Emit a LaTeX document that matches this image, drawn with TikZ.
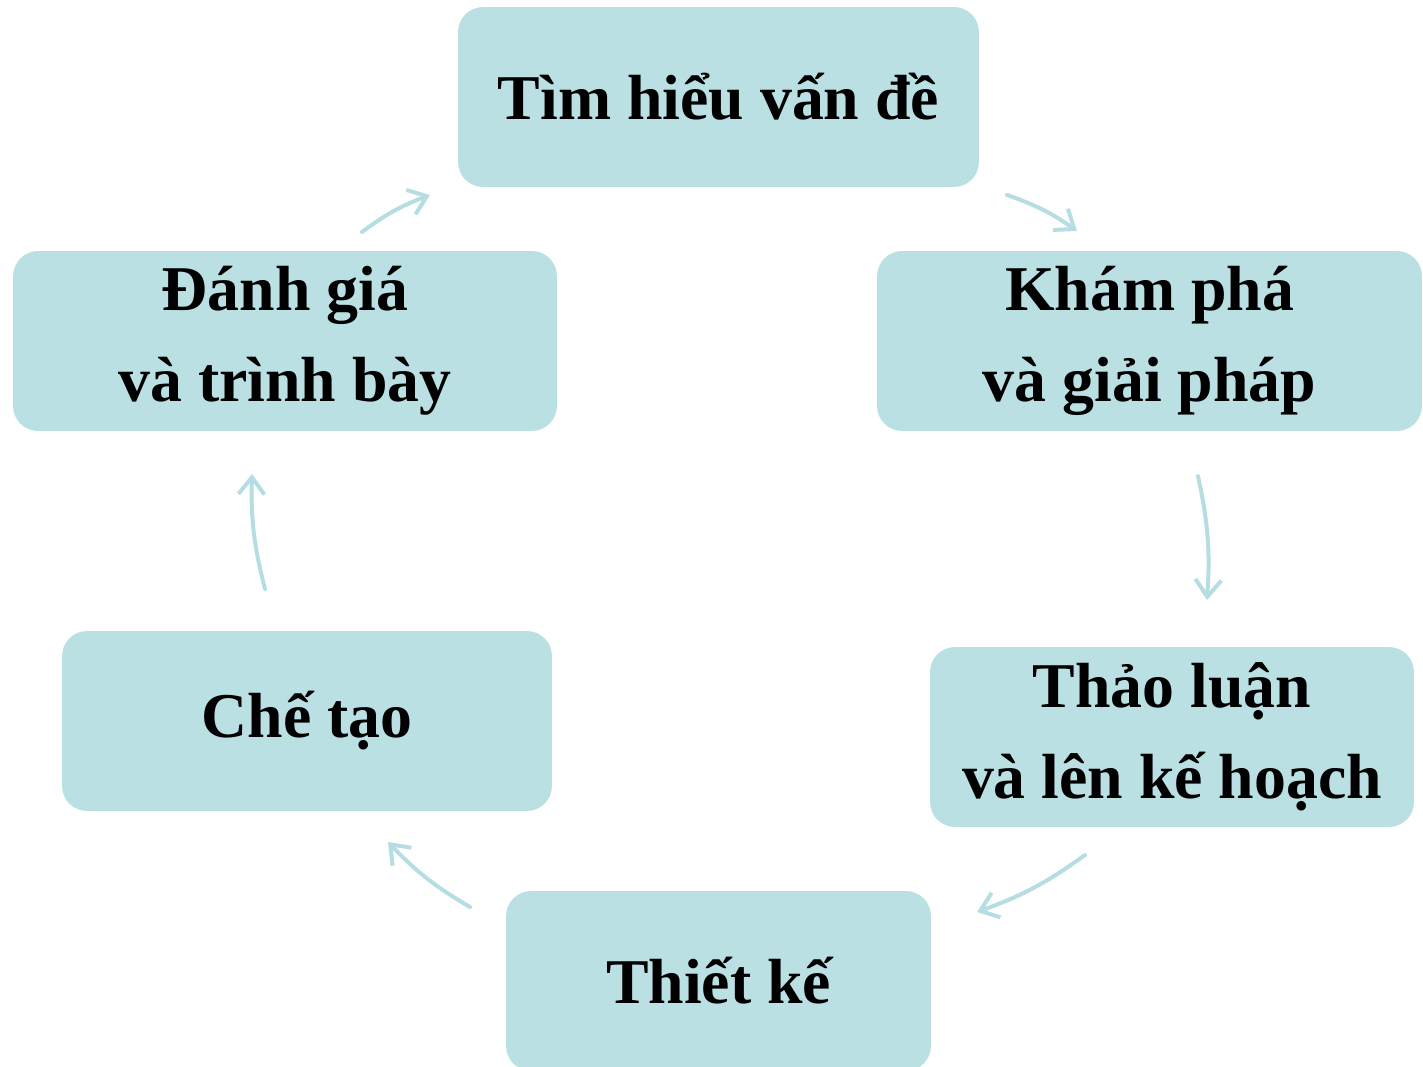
\documentclass[tikz,border=0pt]{standalone}
\usepackage{fontspec}
\setmainfont{Liberation Serif}
\usetikzlibrary{arrows.meta}
\definecolor{boxfill}{RGB}{186,224,227}
\definecolor{arrowcol}{RGB}{182,222,226}
\begin{document}
\begin{tikzpicture}[x=0.02cm,y=-0.02cm,
  stage/.style={fill=boxfill, draw=none, rounded corners=0.5cm, minimum height=3.6cm,
    align=center, font=\fontsize{36.3}{52}\selectfont\bfseries, inner sep=0pt},
  flow/.style={draw=arrowcol, line width=0.08cm, line cap=round,
    -{Straight Barb[length=0.34cm, width=0.52cm, line width=0.08cm]}, bend left=8}]
\useasboundingbox (0,0) rectangle (1423,1067);
\begin{scope}
\clip (0,0) rectangle (1423,1067);
\node[stage, minimum width=10.42cm] (s1) at (718.5,97) {Tìm hiểu vấn đề};
\node[stage, minimum width=10.9cm] (s2) at (1149.5,341) {Khám phá\\và giải pháp};
\node[stage, minimum width=9.68cm] (s3) at (1172,737) {Thảo luận\\và lên kế hoạch};
\node[stage, minimum width=8.5cm] (s4) at (718.5,981) {Thiết kế};
\node[stage, minimum width=9.8cm] (s5) at (307,721) {Chế tạo};
\node[stage, minimum width=10.88cm] (s6) at (285,341) {Đánh giá\\và trình bày};
\end{scope}
\coordinate (a1s) at (362,232); \coordinate (a1e) at (430,195);
\coordinate (a2s) at (1007,195); \coordinate (a2e) at (1077,231);
\coordinate (a3s) at (1198,476); \coordinate (a3e) at (1207,600);
\coordinate (a4s) at (1085,855); \coordinate (a4e) at (977,912);
\coordinate (a5s) at (470,907); \coordinate (a5e) at (388,842);
\coordinate (a6s) at (265,589); \coordinate (a6e) at (252,474);
\draw[flow] (a1s) to (a1e);
\draw[flow] (a2s) to (a2e);
\draw[flow] (a3s) to (a3e);
\draw[flow] (a4s) to (a4e);
\draw[flow] (a5s) to (a5e);
\draw[flow] (a6s) to (a6e);
\end{tikzpicture}
\end{document}
